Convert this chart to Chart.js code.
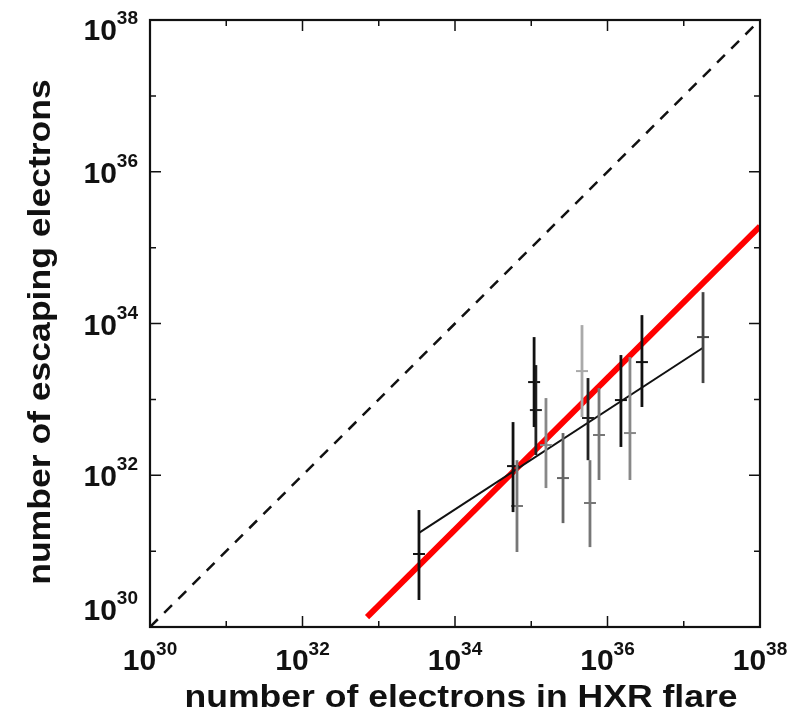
<!DOCTYPE html>
<html>
<head>
<meta charset="utf-8">
<script src="https://cdn.jsdelivr.net/npm/chart.js@4.4.1/dist/chart.umd.min.js"></script>
<style>
  html, body { margin: 0; padding: 0; background: #fff; }
  #wrap { width: 806px; height: 713px; }
</style>
</head>
<body>
<div id="wrap"><canvas id="flareChart" width="806" height="713"></canvas></div>
<script>
// electrons in the HXR flare (x) vs escaping electrons (y), one entry per event
const hxrElectrons = [3.37e33, 5.77e34, 6.50e34, 1.09e35, 1.15e35, 1.56e35, 2.61e35, 4.63e35,
                      5.55e35, 5.89e35, 7.74e35, 1.50e36, 1.97e36, 2.83e36, 1.79e37];
const escElectrons = [9.16e30, 1.32e32, 3.93e31, 1.69e33, 7.23e32, 2.50e32, 9.18e31, 2.36e33,
                      5.68e32, 4.31e31, 3.39e32, 9.79e32, 3.60e32, 3.10e33, 6.62e33];
const escLow       = [2.27e30, 3.27e31, 9.73e30, 4.32e32, 1.85e32, 6.78e31, 2.34e31, 5.85e32,
                      1.58e32, 1.13e31, 8.65e31, 2.36e32, 8.65e31, 7.93e32, 1.64e33];
const escHigh      = [3.48e31, 5.02e32, 1.58e32, 6.62e33, 2.83e33, 1.04e33, 3.60e32, 9.53e33,
                      1.91e33, 1.58e32, 1.41e33, 3.84e33, 3.61e33, 1.29e34, 2.59e34];
const barShade     = ['#111', '#111', '#777', '#111', '#222', '#888', '#666', '#aaa',
                      '#222', '#777', '#777', '#111', '#888', '#111', '#444'];

// straight lines in log-log space
const fitX = [3.37e33, 1.79e37];
const fitY = [1.74e31, 4.79e33];
const redX = [7.02e32, 1.0e38];
const redY = [1.35e30, 1.91e35];
const equalX = [1e30, 1e38];
const equalY = [1e30, 1e38];

const tickExps = [30, 31, 32, 33, 34, 35, 36, 37, 38];
const labelExps = [30, 32, 34, 36, 38];

const xTitle = 'number of electrons in HXR flare';
const yTitle = 'number of escaping electrons';

const fontFamily = '"Liberation Sans", Arial, Helvetica, sans-serif';

const toPoints = (xs, ys) => xs.map((x, i) => ({ x: x, y: ys[i] }));

const datasets = [];

datasets.push({
    type: 'line',
    data: toPoints(equalX, equalY),
    borderColor: '#111',
    borderWidth: 2.5,
    borderDash: [11, 9],
    pointRadius: 0
});

hxrElectrons.forEach((x, i) => {
    datasets.push({
        type: 'line',
        data: [{ x: x, y: escLow[i] }, { x: x, y: escHigh[i] }],
        borderColor: barShade[i],
        borderWidth: 2.8,
        pointRadius: 0
    });
});

datasets.push({
    type: 'scatter',
    data: toPoints(hxrElectrons, escElectrons),
    pointStyle: 'line',
    pointRadius: 6,
    borderWidth: 2,
    borderColor: barShade,
    backgroundColor: barShade
});

datasets.push({
    type: 'line',
    data: toPoints(fitX, fitY),
    borderColor: '#111',
    borderWidth: 2,
    pointRadius: 0
});

datasets.push({
    type: 'line',
    data: toPoints(redX, redY),
    borderColor: '#ff0000',
    borderWidth: 6,
    borderCapStyle: 'butt',
    pointRadius: 0
});

// frame, inward ticks on all four sides, 10^n labels and axis titles
const framePlugin = {
    id: 'frame',
    afterDraw(chart) {
        const { ctx, chartArea: a, scales: { x, y } } = chart;
        ctx.save();
        ctx.strokeStyle = '#111';
        ctx.lineWidth = 2.2;
        ctx.strokeRect(a.left, a.top, a.right - a.left, a.bottom - a.top);

        ctx.lineWidth = 1.5;
        tickExps.forEach(e => {
            const v = Math.pow(10, e);
            const len = e % 2 === 0 ? 11 : 6;
            const px = x.getPixelForValue(v);
            const py = y.getPixelForValue(v);
            ctx.beginPath();
            ctx.moveTo(px, a.bottom); ctx.lineTo(px, a.bottom - len);
            ctx.moveTo(px, a.top); ctx.lineTo(px, a.top + len);
            ctx.moveTo(a.left, py); ctx.lineTo(a.left + len, py);
            ctx.moveTo(a.right, py); ctx.lineTo(a.right - len, py);
            ctx.stroke();
        });

        ctx.fillStyle = '#111';
        ctx.textBaseline = 'alphabetic';
        ctx.textAlign = 'left';
        const baseFont = 'bold 30px ' + fontFamily;
        const supFont = 'bold 19px ' + fontFamily;
        const measure = (txt, f) => { ctx.font = f; return ctx.measureText(txt).width; };

        labelExps.forEach(e => {
            const sup = String(e);
            const bw = measure('10', baseFont);
            const sw = measure(sup, supFont);

            // x axis label, centred under its tick
            const px = x.getPixelForValue(Math.pow(10, e));
            const left = px - (bw + sw) / 2;
            ctx.font = baseFont; ctx.fillText('10', left, 670);
            ctx.font = supFont; ctx.fillText(sup, left + bw, 655);

            // y axis label, right aligned, kept inside the frame height
            let cy = y.getPixelForValue(Math.pow(10, e));
            cy = Math.min(Math.max(cy, a.top + 9), a.bottom - 18);
            const base = cy + 11;
            const right = 138;
            ctx.font = baseFont; ctx.fillText('10', right - sw - bw, base);
            ctx.font = supFont; ctx.fillText(sup, right - sw, base - 16);
        });

        // titles are set a little wide, same stretch on both
        ctx.font = 'bold 32px ' + fontFamily;
        ctx.textAlign = 'center';
        const stretch = 553 / ctx.measureText(xTitle).width;

        ctx.save();
        ctx.translate(461, 707);
        ctx.scale(stretch, 1);
        ctx.fillText(xTitle, 0, 0);
        ctx.restore();

        ctx.save();
        ctx.translate(50, 332);
        ctx.rotate(-Math.PI / 2);
        ctx.scale(stretch, 1);
        ctx.fillText(yTitle, 0, 0);
        ctx.restore();

        ctx.restore();
    }
};

new Chart(document.getElementById('flareChart'), {
    type: 'scatter',
    data: { datasets: datasets },
    options: {
        responsive: false,
        animation: false,
        layout: { padding: { left: 150, right: 46, top: 20, bottom: 86 } },
        plugins: { legend: { display: false }, tooltip: { enabled: false } },
        scales: {
            x: {
                type: 'logarithmic',
                min: 1e30,
                max: 1e38,
                grid: { display: false, drawTicks: false },
                border: { display: false },
                ticks: { display: false }
            },
            y: {
                type: 'logarithmic',
                min: 1e30,
                max: 1e38,
                grid: { display: false, drawTicks: false },
                border: { display: false },
                ticks: { display: false }
            }
        }
    },
    plugins: [framePlugin]
});
</script>
</body>
</html>
